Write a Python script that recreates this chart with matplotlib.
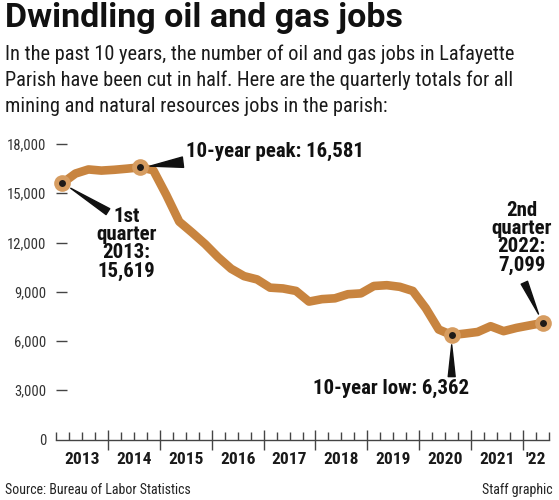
import numpy as np
import matplotlib
matplotlib.use("Agg")
import matplotlib.pyplot as plt
from matplotlib.transforms import blended_transform_factory

plt.rcParams['font.family'] = ['Roboto Condensed', 'Liberation Sans Narrow',
                               'Liberation Sans', 'DejaVu Sans']

# quarterly totals, 1st quarter 2013 .. 2nd quarter 2022
quarters = np.arange(38)
jobs = [15619, 16200, 16450, 16380, 16430, 16500, 16581, 16400,
        14900, 13270, 12600, 11900, 11100, 10400, 9950, 9750,
        9250, 9200, 9050, 8400, 8550, 8600, 8850, 8900,
        9350, 9400, 9300, 9050, 8000, 6700, 6362, 6450,
        6550, 6900, 6600, 6800, 6950, 7099]
years = ['2013', '2014', '2015', '2016', '2017', '2018', '2019', '2020', '2021', "'22"]
yticks_vals = [0, 3000, 6000, 9000, 12000, 15000, 18000]

line_col = '#C8843F'
ring_col = '#D69C60'
dot_col = '#1E1A18'

fig = plt.figure(figsize=(5.59, 5.00), dpi=100)
ax = fig.add_axes([56/559, 1-439.5/500, 493/559, 295.5/500])

ax.plot(quarters, jobs, color=line_col, lw=6.2, solid_joinstyle='round',
        solid_capstyle='round', zorder=3)

# highlighted points
hi = [0, 6, 30, 37]
ax.plot([quarters[i] for i in hi], [jobs[i] for i in hi], 'o', ms=12,
        color=ring_col, mec='none', zorder=4, clip_on=False)
ax.plot([quarters[i] for i in hi], [jobs[i] for i in hi], 'o', ms=5,
        color=dot_col, mec='none', zorder=5, clip_on=False)

ax.set_xlim(-0.5, 37.5)
ax.set_ylim(0, 18000)
for s in ['top', 'right', 'left']:
    ax.spines[s].set_visible(False)
ax.spines['bottom'].set_color('#444444')
ax.spines['bottom'].set_linewidth(1.0)

ax.set_yticks(yticks_vals)
ax.set_yticklabels(['0' if v == 0 else f'{v:,}' for v in yticks_vals])
ax.tick_params(axis='y', direction='in', length=8, width=1.0, color='#444444',
               labelsize=10.5, labelcolor='#333333', pad=7)
ax.yaxis.get_major_ticks()[0].tick1line.set_visible(False)

ax.set_xticks(np.arange(3.5, 37, 4))
ax.set_xticks(np.arange(-0.5, 37.6, 1), minor=True)
ax.tick_params(axis='x', which='major', direction='inout', length=14, width=1.0,
               color='#444444', labelbottom=False)
ax.tick_params(axis='x', which='minor', direction='in', length=5.5, width=1.0,
               color='#444444')

trans = blended_transform_factory(ax.transData, fig.transFigure)
for k, yr in enumerate(years):
    xc = 1.5 + 4*k if k < 9 else 36.5
    ax.text(xc, 1-459/500, yr, transform=trans, ha='center', va='center',
            fontsize=12.5, fontweight='bold', color='#1a1a1a')

# annotations
ann = dict(fontsize=15, fontweight='bold', color='#111111', annotation_clip=False)
wedge = dict(arrowstyle='wedge,tail_width=0.5,shrink_factor=0.5', color='#111111',
             shrinkA=0, shrinkB=7)
ax.annotate('10-year peak: 16,581', xy=(quarters[6], jobs[6]), xytext=(9.5, 17560),
            ha='left', va='center', arrowprops=wedge, **ann)
ax.annotate('1st\nquarter\n2013:\n15,619', xy=(quarters[0], jobs[0]),
            xytext=(4.95, 11930), ha='center', va='center', linespacing=0.95, **ann)
ax.annotate('', xy=(quarters[0], jobs[0]), xytext=(3.5, 13880),
            arrowprops=wedge, annotation_clip=False)
ax.annotate('10-year low: 6,362', xy=(quarters[30], jobs[30]), xytext=(25.3, 3140),
            ha='center', va='center', **ann)
ax.annotate('', xy=(quarters[30], jobs[30]), xytext=(30, 3830),
            arrowprops=wedge, annotation_clip=False)
ax.annotate('2nd\nquarter\n2022:\n7,099', xy=(quarters[37], jobs[37]),
            xytext=(35.4, 12290), ha='center', va='center', linespacing=0.95, **ann)
ax.annotate('', xy=(quarters[37], jobs[37]), xytext=(35.6, 9550),
            arrowprops=wedge, annotation_clip=False)

# headline and notes
fig.text(5/559, 1-27/500, 'Dwindling oil and gas jobs', fontsize=24.5,
         fontweight='bold', family=['Roboto', 'DejaVu Sans'], color='#111111',
         va='baseline')
sub = ['In the past 10 years, the number of oil and gas jobs in Lafayette',
       'Parish have been cut in half. Here are the quarterly totals for all',
       'mining and natural resources jobs in the parish:']
for n, s in enumerate(sub):
    fig.text(5/559, 1-(60 + 26*n)/500, s, fontsize=14.7, color='#1a1a1a', va='baseline')

fig.text(5/559, 1-494/500, 'Source: Bureau of Labor Statistics', fontsize=10,
         color='#222222', va='baseline')
fig.text(553/559, 1-494/500, 'Staff graphic', fontsize=10, color='#222222',
         va='baseline', ha='right')

plt.savefig('out.png', dpi=100)
